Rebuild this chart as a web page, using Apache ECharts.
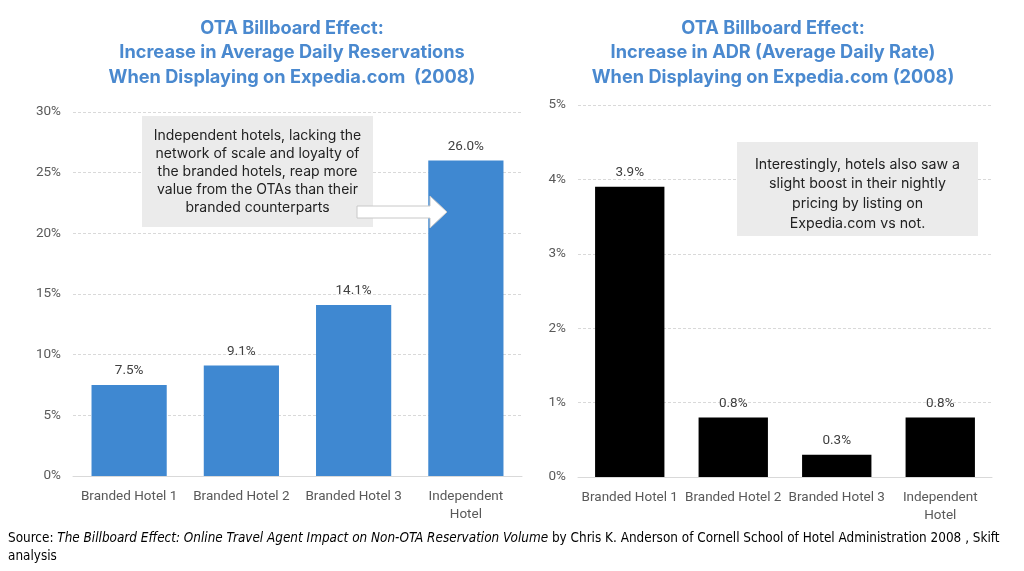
<!DOCTYPE html>
<html>
<head>
<meta charset="utf-8">
<script src="https://cdn.jsdelivr.net/npm/echarts@6/dist/echarts.min.js"></script>
<style>
html,body{margin:0;padding:0;background:#fff;}
#chart{width:1024px;height:571px;}
</style>
</head>
<body>
<div id="chart"></div>
<script>
const categories = ['Branded Hotel 1', 'Branded Hotel 2', 'Branded Hotel 3', 'Independent\nHotel'];
const reservationIncrease = [7.5, 9.1, 14.1, 26.0];
const adrIncrease = [3.9, 0.8, 0.3, 0.8];
const leftTitle = 'OTA Billboard Effect:\nIncrease in Average Daily Reservations\nWhen Displaying on Expedia.com  (2008)';
const rightTitle = 'OTA Billboard Effect:\nIncrease in ADR (Average Daily Rate)\nWhen Displaying on Expedia.com (2008)';
const leftNote = 'Independent hotels, lacking the\nnetwork of scale and loyalty of\nthe branded hotels, reap more\nvalue from the OTAs than their\nbranded counterparts';
const rightNote = 'Interestingly, hotels also saw a\nslight boost in their nightly\npricing by listing on\nExpedia.com vs not.';

const FONT = 'Roboto, "Noto Sans", sans-serif';
const chart = echarts.init(document.getElementById('chart'), null, {renderer: 'canvas'});

function xAxis(idx) {
  return {
    type: 'category', gridIndex: idx, data: categories,
    axisLine: {lineStyle: {color: '#d9d9d9'}},
    axisTick: {show: false},
    axisLabel: {color: '#595959', fontSize: 13.5, fontFamily: FONT, margin: 12, lineHeight: 18, interval: 0}
  };
}
function yAxis(idx, max, interval) {
  return {
    type: 'value', gridIndex: idx, min: 0, max: max, interval: interval,
    axisLine: {show: false}, axisTick: {show: false},
    splitLine: {lineStyle: {color: '#d9d9d9', type: [3, 2]}},
    axisLabel: {color: '#595959', fontSize: 13.5, fontFamily: FONT, margin: 12, formatter: v => v + '%'}
  };
}
const labelStyle = {show: true, position: 'top', distance: 7, color: '#404040', fontSize: 13.5, fontFamily: FONT,
  formatter: p => p.value.toFixed(1) + '%'};
const titleStyle = {color: '#4A89CF', fontSize: 18.2, fontWeight: 'bold', fontFamily: 'Inter, Roboto, sans-serif', lineHeight: 24.5};
const footFont = '"Liberation Sans Narrow", "DejaVu Sans Condensed", sans-serif';

chart.setOption({
  animation: false,
  title: [
    {text: leftTitle, left: 287, top: 11, textAlign: 'center', textStyle: titleStyle},
    {text: rightTitle, left: 768, top: 11, textAlign: 'center', textStyle: titleStyle}
  ],
  grid: [
    {left: 73, width: 449, top: 112, bottom: 95},
    {left: 578, width: 414, top: 105, bottom: 94}
  ],
  xAxis: [xAxis(0), xAxis(1)],
  yAxis: [yAxis(0, 30, 5), yAxis(1, 5, 1)],
  series: [
    {type: 'bar', xAxisIndex: 0, yAxisIndex: 0, data: reservationIncrease, barCategoryGap: '33%',
     itemStyle: {color: '#3F88D1'}, label: labelStyle, z: 2},
    {type: 'bar', xAxisIndex: 1, yAxisIndex: 1, data: adrIncrease, barCategoryGap: '33%',
     itemStyle: {color: '#000000'}, label: labelStyle, z: 2}
  ],
  graphic: [
    {type: 'rect', shape: {x: 142, y: 116, width: 231, height: 111}, style: {fill: '#ebebeb'}, z: 10},
    {type: 'text', x: 257.5, y: 172, z: 11,
     style: {text: leftNote, fill: '#222', font: '14px Inter, Roboto, sans-serif', align: 'center', verticalAlign: 'middle', lineHeight: 18}},
    {type: 'polygon', z: 12,
     shape: {points: [[357, 206], [430, 206], [430, 196], [447, 212], [430, 228], [430, 218], [357, 218]]},
     style: {fill: '#ffffff', stroke: '#c8c8c8', lineWidth: 1}},
    {type: 'rect', shape: {x: 737, y: 142, width: 241, height: 94}, style: {fill: '#ebebeb'}, z: 10},
    {type: 'text', x: 857.5, y: 194, z: 11,
     style: {text: rightNote, fill: '#222', font: '14.2px Inter, Roboto, sans-serif', align: 'center', verticalAlign: 'middle', lineHeight: 19.7}},
    {type: 'text', x: 8, y: 529, z: 11, scaleX: 0.925, originX: 0,
     style: {
       text: '{a|Source: }{i|The Billboard Effect: Online Travel Agent Impact on Non-OTA Reservation Volume}{a| by Chris K. Anderson of Cornell School of Hotel Administration 2008 , Skift}\n{a|analysis}',
       rich: {
         a: {fontFamily: footFont, fontSize: 14.5, fill: '#000', lineHeight: 18},
         i: {fontFamily: footFont, fontSize: 14.5, fontStyle: 'italic', fill: '#000', lineHeight: 18}
       }
     }}
  ]
});
</script>
</body>
</html>
